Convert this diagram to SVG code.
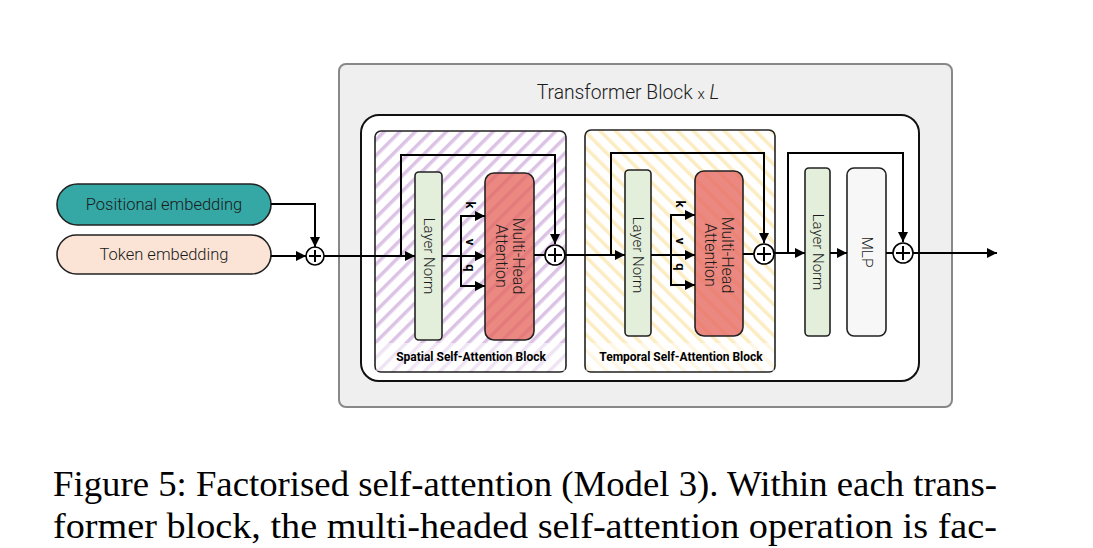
<svg xmlns="http://www.w3.org/2000/svg" width="1093" height="548" viewBox="0 0 1093 548">
<style>
.ln{fill:none;stroke:#000;stroke-width:2}
.box{stroke:#222;stroke-width:1.6}
.t{font-family:Roboto,"Liberation Sans",sans-serif;font-weight:300;fill:#1a1a1a}
.b{font-family:Roboto,"Liberation Sans",sans-serif;font-weight:700;fill:#000}
.cap{font-family:"Liberation Serif","Times New Roman",serif;font-size:36px;fill:#000}
.sum{fill:#fff;stroke:#000;stroke-width:1.6}
</style>
<defs>
<marker id="ah" markerWidth="11" markerHeight="10" refX="10" refY="5" orient="auto" markerUnits="userSpaceOnUse">
<path d="M0,0 L10,5 L0,10 z" fill="#000"/>
</marker>
<pattern id="hp" width="11" height="11" patternUnits="userSpaceOnUse" patternTransform="rotate(45)">
<rect width="11" height="11" fill="#fff"/>
<rect width="3.5" height="11" fill="#dcc3e6"/>
</pattern>
<pattern id="hy" width="11" height="11" patternUnits="userSpaceOnUse" patternTransform="rotate(-45)">
<rect width="11" height="11" fill="#fff"/>
<rect width="3.5" height="11" fill="#fcecc2"/>
</pattern>
</defs>

<g id="outer">
<rect x="339" y="64" width="613" height="343" rx="7" fill="#efefef" stroke="#888" stroke-width="2"/>
<text class="t" x="628" y="99" text-anchor="middle" font-size="19.3">Transformer Block <tspan font-size="15">x</tspan> <tspan font-style="italic">L</tspan></text>
</g>
<g id="inner">
<rect x="361" y="115" width="558" height="266" rx="18" fill="#fff" stroke="#111" stroke-width="2"/>
</g>

<g id="spatial-block">
<rect x="375" y="131" width="191" height="241" rx="6" fill="url(#hp)" stroke="#222" stroke-width="1.6"/>
<rect x="376" y="343" width="189" height="28" fill="#fff" opacity="0.55"/>
<text class="b" x="471" y="361" text-anchor="middle" font-size="12">Spatial Self-Attention Block</text>
</g>
<g id="temporal-block">
<rect x="585" y="130" width="190" height="242" rx="6" fill="url(#hy)" stroke="#222" stroke-width="1.6"/>
<rect x="586" y="343" width="188" height="28" fill="#fff" opacity="0.55"/>
<text class="b" x="681" y="361" text-anchor="middle" font-size="12">Temporal Self-Attention Block</text>
</g>

<g id="pos-emb">
<rect x="57" y="184" width="214" height="41" rx="20.5" fill="#35a7a5" class="box"/>
<text class="t" x="164" y="210" text-anchor="middle" font-size="16.5">Positional embedding</text>
</g>
<g id="tok-emb">
<rect x="57" y="235" width="214" height="39" rx="19.5" fill="#fbe4d5" class="box"/>
<text class="t" x="164" y="260" text-anchor="middle" font-size="16.5">Token embedding</text>
</g>

<g id="s-ln">
<rect x="415" y="172" width="27" height="168" rx="4" fill="#e3efda" class="box"/>
<text class="t" transform="translate(428.5,256) rotate(90)" text-anchor="middle" y="5" font-size="15">Layer Norm</text>
</g>
<g id="s-mha">
<rect x="485" y="173" width="49" height="167" rx="9" fill="#e5665d" fill-opacity="0.78" class="box"/>
<text class="t" transform="translate(509.5,256) rotate(90)" text-anchor="middle" font-size="16"><tspan x="0" y="-3">Multi-Head</tspan><tspan x="0" y="14">Attention</tspan></text>
</g>
<g id="s-kvq">
<text class="b" transform="translate(470,205) rotate(90)" text-anchor="middle" y="4.5" font-size="13">k</text>
<text class="b" transform="translate(470,242) rotate(90)" text-anchor="middle" y="4.5" font-size="13">v</text>
<text class="b" transform="translate(470,268) rotate(90)" text-anchor="middle" y="4.5" font-size="13">q</text>
</g>

<g id="t-ln">
<rect x="625" y="170" width="26" height="166" rx="4" fill="#e3efda" class="box"/>
<text class="t" transform="translate(638,255) rotate(90)" text-anchor="middle" y="5" font-size="15">Layer Norm</text>
</g>
<g id="t-mha">
<rect x="695" y="171" width="48" height="165" rx="9" fill="#e5665d" fill-opacity="0.78" class="box"/>
<text class="t" transform="translate(719,255) rotate(90)" text-anchor="middle" font-size="16"><tspan x="0" y="-3">Multi-Head</tspan><tspan x="0" y="14">Attention</tspan></text>
</g>
<g id="t-kvq">
<text class="b" transform="translate(680,204) rotate(90)" text-anchor="middle" y="4.5" font-size="13">k</text>
<text class="b" transform="translate(680,241) rotate(90)" text-anchor="middle" y="4.5" font-size="13">v</text>
<text class="b" transform="translate(680,267) rotate(90)" text-anchor="middle" y="4.5" font-size="13">q</text>
</g>

<g id="m-ln">
<rect x="805" y="168" width="25" height="168" rx="4" fill="#e3efda" class="box"/>
<text class="t" transform="translate(817.5,252) rotate(90)" text-anchor="middle" y="5" font-size="15">Layer Norm</text>
</g>
<g id="mlp">
<rect x="847" y="168" width="39" height="168" rx="7" fill="#f7f7f7" class="box"/>
<text class="t" transform="translate(866.5,252) rotate(90)" text-anchor="middle" y="5" font-size="15.5">MLP</text>
</g>

<g id="connectors">
<path class="ln" d="M271,256 H306" marker-end="url(#ah)"/>
<path class="ln" d="M271,204 H315 V247" marker-end="url(#ah)"/>
<path class="ln" d="M324,256 H415" marker-end="url(#ah)"/>
<path class="ln" d="M401,256 V155 H555 V244" marker-end="url(#ah)"/>
<path class="ln" d="M442,256 H485" marker-end="url(#ah)"/>
<path class="ln" d="M461,216 V286"/>
<path class="ln" d="M460,216 H485" marker-end="url(#ah)"/>
<path class="ln" d="M460,286 H485" marker-end="url(#ah)"/>
<path class="ln" d="M534,255 H545"/>
<path class="ln" d="M565,255 H625" marker-end="url(#ah)"/>
<path class="ln" d="M611,255 V153 H764 V243" marker-end="url(#ah)"/>
<path class="ln" d="M651,255 H695" marker-end="url(#ah)"/>
<path class="ln" d="M671,215 V285"/>
<path class="ln" d="M670,215 H695" marker-end="url(#ah)"/>
<path class="ln" d="M670,285 H695" marker-end="url(#ah)"/>
<path class="ln" d="M743,254 H754"/>
<path class="ln" d="M774,253 H805" marker-end="url(#ah)"/>
<path class="ln" d="M788,253 V153 H903 V242" marker-end="url(#ah)"/>
<path class="ln" d="M830,253 H847" marker-end="url(#ah)"/>
<path class="ln" d="M886,253 H893"/>
<path class="ln" d="M913,253 H997" marker-end="url(#ah)"/>
</g>

<g id="sums">
<circle class="sum" cx="315" cy="256" r="9"/>
<path class="ln" stroke-width="1.4" d="M309,256 H321 M315,250 V262"/>
<circle class="sum" cx="555" cy="255" r="10"/>
<path class="ln" stroke-width="1.4" d="M548,255 H562 M555,248 V262"/>
<circle class="sum" cx="764" cy="254" r="10"/>
<path class="ln" stroke-width="1.4" d="M757,254 H771 M764,247 V261"/>
<circle class="sum" cx="903" cy="253" r="10"/>
<path class="ln" stroke-width="1.4" d="M896,253 H910 M903,246 V260"/>
</g>

<g id="caption">
<text class="cap" x="53" y="496" textLength="944" lengthAdjust="spacingAndGlyphs">Figure 5: Factorised self-attention (Model 3).  Within each trans-</text>
<text class="cap" x="53" y="538" textLength="944" lengthAdjust="spacingAndGlyphs">former block, the multi-headed self-attention operation is fac-</text>
</g>
</svg>
